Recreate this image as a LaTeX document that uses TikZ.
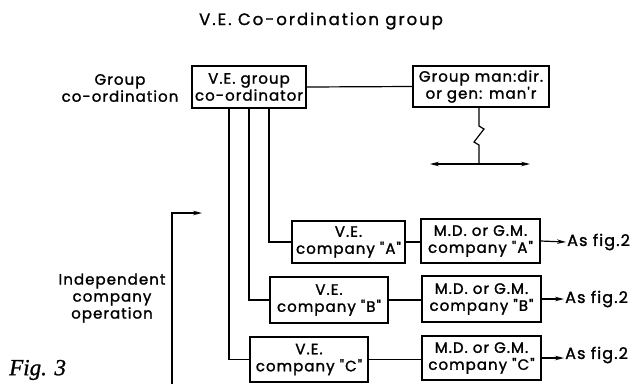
\documentclass[tikz,border=0pt]{standalone}
\usepackage{fontspec}
\newfontfamily\lettering[LetterSpace=7,FakeBold=1.5]{Poppins}
\newfontfamily\titlefont[LetterSpace=12,FakeBold=1.2]{Poppins}
\newfontfamily\figfont[FakeBold=1]{Liberation Serif}
\usetikzlibrary{arrows.meta}

\begin{document}
\begin{tikzpicture}[x=1pt, y=-1pt,
  txt/.style={font=\lettering\fontsize{15}{17}\selectfont, align=center, inner sep=1pt},
  post/.style={txt, draw, line width=1.5pt, inner sep=0pt},
  link/.style={line width=1.2pt},
  tip/.style={line width=1.2pt, -{Stealth[length=9pt,width=4.5pt]}}]
  \useasboundingbox (0,0) rectangle (638,384);
  % Title
  \node[txt, font=\titlefont\fontsize{16.5}{18}\selectfont] (title) at (321,21) {V.E. Co-ordination group};
  % Group level
  \node[txt] (grplbl) at (120,88) {Group\\co-ordination};
  \node[post, minimum width=114pt, minimum height=42pt] (coord) at (249,87) {V.E. group\\co-ordinator};
  \node[post, minimum width=136pt, minimum height=41pt] (gmd) at (481,86.5) {Group man:dir.\\or gen: man'r};
  \draw[link] (coord.east) -- (gmd.west);
  % Link to the rest of the group
  \coordinate (zz) at (479,164);
  \coordinate (zl) at (430,164);
  \coordinate (zr) at (530,164);
  \draw[link] (479,107) -- (479,126) -- (484,129) -- (474,142) -- (479,145) -- (zz);
  \draw[link, {Stealth[length=9pt,width=4.5pt]}-{Stealth[length=9pt,width=4.5pt]}] (zl) -- (zr);
  % Company A
  \node[post, minimum width=113pt, minimum height=42pt] (vea) at (348.5,242) {V.E.\\company "A"};
  \node[post, minimum width=119pt, minimum height=44pt] (mda) at (480.5,241) {M.D. or G.M.\\company "A"};
  \node[txt, anchor=west, font=\lettering\fontsize{16}{18}\selectfont] (figa) at (566,242) {As fig.2};
  % Company B
  \node[post, minimum width=118pt, minimum height=46pt] (veb) at (329,300) {V.E.\\company "B"};
  \node[post, minimum width=119pt, minimum height=46pt] (mdb) at (481.5,299) {M.D. or G.M.\\company "B"};
  \node[txt, anchor=west, font=\lettering\fontsize{16}{18}\selectfont] (figb) at (564,299) {As fig.2};
  % Company C
  \node[post, minimum width=118pt, minimum height=45pt] (vec) at (309,359.5) {V.E.\\company "C"};
  \node[post, minimum width=119pt, minimum height=44pt] (mdc) at (481.5,358) {M.D. or G.M.\\company "C"};
  \node[txt, anchor=west, font=\lettering\fontsize{16}{18}\selectfont] (figc) at (564,355) {As fig.2};
  % Lines from the co-ordinator
  \draw[link] ([xshift=20pt]coord.south) |- (vea.west);
  \draw[link] (coord.south) |- (veb.west);
  \draw[link] ([xshift=-20pt]coord.south) |- (vec.west);
  \draw[link] (vea.east) -- (vea.east -| mda.west);
  \draw[link] (veb.east) -- (veb.east -| mdb.west);
  \draw[link] (vec.east) -- (vec.east -| mdc.west);
  \draw[tip] (mda.east) -- (figa.west);
  \draw[tip] (mdb.east) -- (figb.west);
  \draw[tip] (mdc.east) -- (mdc.east -| figc.west);
  % Company level
  \node[txt] (indlbl) at (112,298) {Independent\\company\\operation};
  \coordinate (indbot) at (172,384);
  \coordinate (indtip) at (202,213);
  \draw[tip] (indbot) |- (indtip);
  % Caption
  \node[font=\figfont\itshape\fontsize{23}{26}\selectfont, anchor=west, inner sep=0pt] (cap) at (9,370) {Fig. 3};
\end{tikzpicture}
\end{document}
